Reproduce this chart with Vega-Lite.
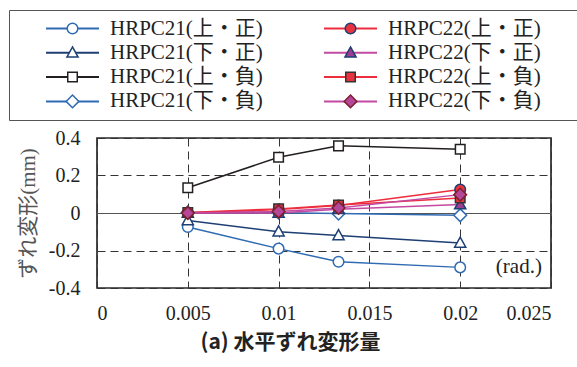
{
  "$schema": "https://vega.github.io/schema/vega-lite/v6.json",
  "autosize": {"type": "none"},
  "padding": {"left": 97, "top": 138, "right": 26, "bottom": 79},
  "width": 454,
  "height": 150,
  "config": {
    "view": {"stroke": "#2a2a2a", "strokeWidth": 1.7},
    "axis": {
      "labelFont": "Liberation Serif",
      "labelFontSize": 20,
      "labelColor": "#222222",
      "ticks": false,
      "domain": false,
      "gridColor": "#333333",
      "gridWidth": 1
    }
  },
  "data": {
    "values": [
      {"series": "HRPC21(上・正)", "x": 0.005, "y": -0.075},
      {"series": "HRPC21(上・正)", "x": 0.01, "y": -0.19},
      {"series": "HRPC21(上・正)", "x": 0.0133, "y": -0.26},
      {"series": "HRPC21(上・正)", "x": 0.02, "y": -0.29},
      {"series": "HRPC21(下・正)", "x": 0.005, "y": -0.04},
      {"series": "HRPC21(下・正)", "x": 0.01, "y": -0.1},
      {"series": "HRPC21(下・正)", "x": 0.0133, "y": -0.12},
      {"series": "HRPC21(下・正)", "x": 0.02, "y": -0.16},
      {"series": "HRPC21(上・負)", "x": 0.005, "y": 0.135},
      {"series": "HRPC21(上・負)", "x": 0.01, "y": 0.297},
      {"series": "HRPC21(上・負)", "x": 0.0133, "y": 0.358},
      {"series": "HRPC21(上・負)", "x": 0.02, "y": 0.34},
      {"series": "HRPC21(下・負)", "x": 0.005, "y": 0.003},
      {"series": "HRPC21(下・負)", "x": 0.01, "y": 0.002},
      {"series": "HRPC21(下・負)", "x": 0.0133, "y": -0.003},
      {"series": "HRPC21(下・負)", "x": 0.02, "y": -0.012},
      {"series": "HRPC22(上・正)", "x": 0.005, "y": 0.0},
      {"series": "HRPC22(上・正)", "x": 0.01, "y": 0.018},
      {"series": "HRPC22(上・正)", "x": 0.0133, "y": 0.04},
      {"series": "HRPC22(上・正)", "x": 0.02, "y": 0.125},
      {"series": "HRPC22(下・正)", "x": 0.005, "y": 0.0},
      {"series": "HRPC22(下・正)", "x": 0.01, "y": 0.0},
      {"series": "HRPC22(下・正)", "x": 0.0133, "y": 0.02},
      {"series": "HRPC22(下・正)", "x": 0.02, "y": 0.045},
      {"series": "HRPC22(上・負)", "x": 0.005, "y": 0.003},
      {"series": "HRPC22(上・負)", "x": 0.01, "y": 0.022},
      {"series": "HRPC22(上・負)", "x": 0.0133, "y": 0.043},
      {"series": "HRPC22(上・負)", "x": 0.02, "y": 0.08},
      {"series": "HRPC22(下・負)", "x": 0.005, "y": 0.0},
      {"series": "HRPC22(下・負)", "x": 0.01, "y": 0.008},
      {"series": "HRPC22(下・負)", "x": 0.0133, "y": 0.027},
      {"series": "HRPC22(下・負)", "x": 0.02, "y": 0.098}
    ]
  },
  "encoding": {
    "x": {
      "field": "x",
      "type": "quantitative",
      "scale": {"domain": [0, 0.025], "nice": false, "zero": false},
      "axis": {
        "values": [0, 0.005, 0.01, 0.015, 0.02, 0.025],
        "format": "~g",
        "labelPadding": 15,
        "gridDash": [8, 5],
        "title": "(a) 水平ずれ変形量",
        "titleFont": "Noto Sans CJK JP",
        "titleFontSize": 21,
        "titleFontWeight": "bold",
        "titleColor": "#222222",
        "titleX": 193,
        "titleY": 54,
        "titleAlign": "center",
        "titleBaseline": "middle"
      }
    },
    "y": {
      "field": "y",
      "type": "quantitative",
      "scale": {"domain": [-0.4, 0.4], "nice": false},
      "axis": {
        "values": [-0.4, -0.2, 0, 0.2, 0.4],
        "labelExpr": "datum.value < 0 ? '-' + format(-datum.value, '~g') : format(datum.value, '~g')",
        "labelPadding": 17,
        "gridDash": {"condition": {"test": "datum.value === 0", "value": []}, "value": [8, 5]},
        "gridColor": {"condition": {"test": "datum.value === 0", "value": "#555555"}, "value": "#333333"},
        "title": "ずれ変形(mm)",
        "titleFont": "Liberation Serif, Noto Sans CJK JP",
        "titleFontSize": 21,
        "titleFontWeight": "normal",
        "titleColor": "#555555",
        "titleAngle": -90,
        "titleX": -69,
        "titleY": 75,
        "titleAlign": "center",
        "titleBaseline": "middle"
      }
    }
  },
  "layer": [
    {
      "mark": {"type": "line", "strokeWidth": 1.5},
      "encoding": {
        "color": {
          "field": "series",
          "type": "nominal",
          "scale": {
            "domain": ["HRPC21(上・正)", "HRPC21(下・正)", "HRPC21(上・負)", "HRPC21(下・負)", "HRPC22(上・正)", "HRPC22(下・正)", "HRPC22(上・負)", "HRPC22(下・負)"],
            "range": ["#2f6bb3", "#1d3f73", "#231f20", "#2f6bb3", "#ee2d3c", "#c24aa0", "#ee2d3c", "#c24aa0"]
          },
          "legend": {
            "title": "a",
            "titleOrient": "right",
            "titleOpacity": 0,
            "titleFontSize": 10,
            "titlePadding": 27,
            "orient": "none",
            "legendX": -88,
            "legendY": -128,
            "columns": 2,
            "columnPadding": 32,
            "rowPadding": 2.3,
            "padding": 8,
            "clipHeight": 21,
            "symbolType": "stroke",
            "symbolSize": 2809,
            "symbolStrokeWidth": 2,
            "symbolOffset": 28,
            "labelOffset": 10,
            "labelFont": "Liberation Serif, Noto Sans CJK JP",
            "labelFontSize": 21,
            "labelColor": "#222222",
            "labelLimit": 400,
            "strokeColor": "#555555",
            "fillColor": "white",
            "zindex": 0
          }
        }
      }
    },
    {
      "mark": {"type": "point", "filled": true, "size": 2809, "strokeWidth": 1.5, "opacity": 1},
      "encoding": {
        "shape": {
          "field": "series",
          "type": "nominal",
          "sort": null,
          "scale": {
            "range": [
              "M-1,0M1,0M0.2,0C0.2,0.1105,0.1105,0.2,0,0.2C-0.1105,0.2,-0.2,0.1105,-0.2,0C-0.2,-0.1105,-0.1105,-0.2,0,-0.2C0.1105,-0.2,0.2,-0.1105,0.2,0Z",
              "M-1,0M1,0M0,-0.22L0.21,0.16L-0.21,0.16Z",
              "M-1,0M1,0M-0.18,-0.18L0.18,-0.18L0.18,0.18L-0.18,0.18Z",
              "M-1,0M1,0M0,-0.24L0.24,0L0,0.24L-0.24,0Z",
              "M-1,0M1,0M0.2,0C0.2,0.1105,0.1105,0.2,0,0.2C-0.1105,0.2,-0.2,0.1105,-0.2,0C-0.2,-0.1105,-0.1105,-0.2,0,-0.2C0.1105,-0.2,0.2,-0.1105,0.2,0Z",
              "M-1,0M1,0M0,-0.22L0.21,0.16L-0.21,0.16Z",
              "M-1,0M1,0M-0.18,-0.18L0.18,-0.18L0.18,0.18L-0.18,0.18Z",
              "M-1,0M1,0M0,-0.24L0.24,0L0,0.24L-0.24,0Z"
            ]
          },
          "legend": {
            "title": null,
            "orient": "none",
            "legendX": -88,
            "legendY": -128,
            "columns": 2,
            "columnPadding": 32,
            "rowPadding": 2.3,
            "padding": 8,
            "clipHeight": 21,
            "symbolSize": 2809,
            "symbolStrokeWidth": 1.5,
            "symbolOffset": 28,
            "labelOffset": 10,
            "labelFont": "Liberation Serif, Noto Sans CJK JP",
            "labelFontSize": 21,
            "labelOpacity": 0,
            "labelLimit": 400,
            "symbolOpacity": 1,
            "zindex": 1
          }
        },
        "fill": {
          "field": "series",
          "type": "nominal",
          "sort": null,
          "scale": {"range": ["#ffffff", "#ffffff", "#ffffff", "#ffffff", "#e8333f", "#9c3d8f", "#e8333f", "#b5479a"]}
        },
        "stroke": {
          "field": "series",
          "type": "nominal",
          "sort": null,
          "scale": {"range": ["#2f6bb3", "#1d3f73", "#231f20", "#2f6bb3", "#1d3f73", "#1d3f73", "#333333", "#7f1f2c"]}
        }
      }
    },
    {
      "data": {"values": [{"x": 0.0245, "y": -0.288, "label": "(rad.)"}]},
      "mark": {"type": "text", "align": "right", "baseline": "middle", "font": "Liberation Serif", "fontSize": 21, "color": "#222222"},
      "encoding": {"text": {"field": "label"}}
    }
  ]
}
